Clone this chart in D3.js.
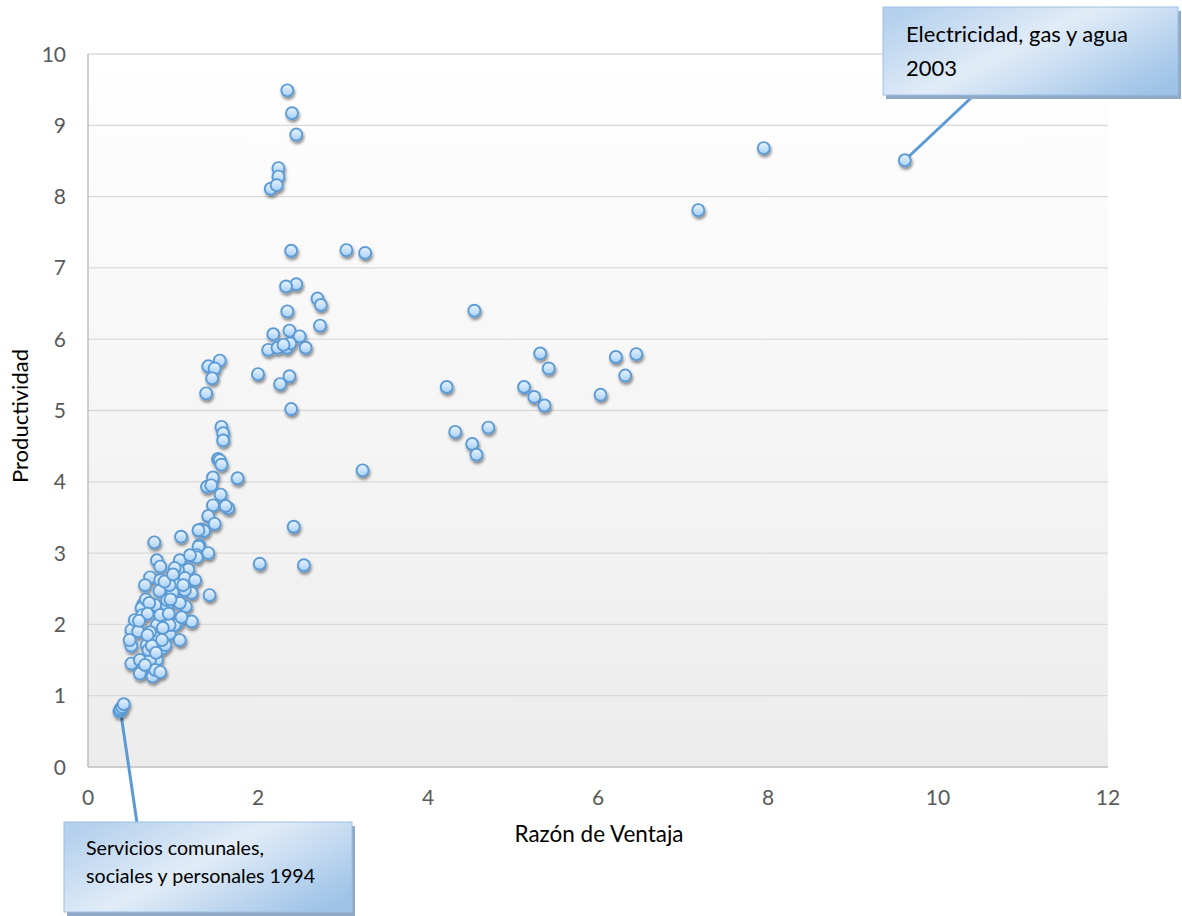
<!DOCTYPE html>
<html><head><meta charset="utf-8">
<script src="https://cdn.jsdelivr.net/npm/d3@7"></script>
<style>body{margin:0;background:#fff}svg{display:block}</style>
</head><body>
<svg id="chart" width="1182" height="916"></svg>
<script>
// ---- data ----
const xTicks = [0, 2, 4, 6, 8, 10, 12];
const yTicks = [0, 1, 2, 3, 4, 5, 6, 7, 8, 9, 10];
const xTitle = "Razón de Ventaja";
const yTitle = "Productividad";
const calloutTop = ["Electricidad, gas y agua", "2003"];
const calloutBottom = ["Servicios comunales,", "sociales y personales 1994"];
const razonVentaja = [
 9.61,7.95,7.18,6.45,6.21,6.32,6.03,5.32,5.42,5.13,5.25,5.37,4.545,4.22,4.32,4.71,4.52,4.57,
 3.23,3.04,3.26,2.345,2.40,2.45,2.24,2.24,2.15,2.22,2.39,2.45,2.33,2.70,2.74,2.345,2.73,
 2.37,2.18,2.49,2.12,2.23,2.34,2.56,2.38,2.30,2.0,2.37,2.26,2.39,2.42,2.54,2.02,
 1.55,1.415,1.49,1.46,1.39,1.57,1.59,1.59,1.53,1.55,1.57,1.47,1.76,1.40,1.45,1.56,1.47,1.65,1.62,
 1.415,1.49,1.33,1.365,1.30,0.78,1.094,1.31,1.30,1.28,1.415,1.28,1.08,0.81,0.85,1.18,1.06,0.73,
 0.85,1.08,1.14,1.02,0.84,0.996,1.22,1.43,0.65,0.63,0.93,1.15,1.08,0.91,1.22,1.05,0.81,0.51,0.59,
 0.96,0.79,0.51,0.69,0.87,0.81,0.51,0.73,0.61,0.76,
 0.67,0.96,0.49,0.61,0.73,0.91,1.02,0.79,0.85,0.55,0.64,0.93,1.14,1.26,1.02,1.20,0.73,0.79,0.67,
 0.87,0.96,1.08,0.85,0.71,0.68,0.72,
 0.97,1.12,0.90,1.00,0.70,0.60,0.88,0.95,1.10,0.75,0.80,0.70,
 0.37,0.39,0.38,0.40,0.42
];
const productividad = [
 8.51,8.68,7.81,5.79,5.75,5.49,5.22,5.80,5.59,5.33,5.19,5.07,6.40,5.33,4.70,4.76,4.53,4.38,
 4.16,7.25,7.21,9.49,9.17,8.87,8.40,8.28,8.11,8.16,7.24,6.77,6.74,6.57,6.48,6.39,6.19,
 6.12,6.07,6.04,5.85,5.88,5.88,5.88,5.94,5.92,5.51,5.48,5.37,5.02,3.37,2.83,2.85,
 5.70,5.62,5.59,5.45,5.24,4.77,4.68,4.58,4.32,4.30,4.24,4.06,4.05,3.93,3.95,3.82,3.67,3.63,3.66,
 3.52,3.41,3.33,3.31,3.32,3.15,3.23,3.11,3.09,2.97,3.00,2.94,2.90,2.90,2.81,2.77,2.76,2.66,
 2.62,2.62,2.65,2.58,2.47,2.45,2.44,2.41,2.28,2.23,2.26,2.25,2.30,2.04,2.04,2.02,1.99,1.92,1.90,
 1.87,1.81,1.70,1.71,1.66,1.50,1.45,1.55,1.31,1.27,
 2.55,2.55,1.78,1.50,1.89,1.71,1.99,2.27,2.13,2.06,2.13,2.34,2.48,2.62,2.79,2.97,1.50,1.36,1.43,
 1.78,1.99,1.78,1.33,1.64,2.35,2.30,
 2.35,2.55,2.60,2.70,2.15,2.05,1.95,2.15,2.10,1.70,1.60,1.85,
 0.78,0.80,0.81,0.84,0.88
];
const topIdx = 0;                          // Electricidad, gas y agua 2003
const bottomIdx = razonVentaja.length - 3; // Servicios comunales ... 1994

// ---- layout ----
const svg = d3.select("#chart");
const x = d3.scaleLinear().domain([0, 12]).range([88, 1108]);
const y = d3.scaleLinear().domain([0, 10]).range([767, 54]);
const font = "Lato, 'Open Sans', sans-serif";

const defs = svg.append("defs");
const bg = defs.append("linearGradient").attr("id","bg").attr("x1",0).attr("y1",0).attr("x2",0).attr("y2",1);
bg.append("stop").attr("offset","0%").attr("stop-color","#ffffff");
bg.append("stop").attr("offset","100%").attr("stop-color","#ececec");
const mk = defs.append("linearGradient").attr("id","mk").attr("x1",0).attr("y1",0).attr("x2",0).attr("y2",1);
mk.append("stop").attr("offset","0%").attr("stop-color","#eaf4fe");
mk.append("stop").attr("offset","100%").attr("stop-color","#a6cff6");
const bx = defs.append("linearGradient").attr("id","bx").attr("x1",0).attr("y1",0.2).attr("x2",1).attr("y2",0.8);
bx.append("stop").attr("offset","0%").attr("stop-color","#b6d1ed");
bx.append("stop").attr("offset","45%").attr("stop-color","#e1ecf8");
bx.append("stop").attr("offset","100%").attr("stop-color","#9fc3e7");
const sh = defs.append("filter").attr("id","sh").attr("x","-50%").attr("y","-50%").attr("width","200%").attr("height","200%");
sh.append("feDropShadow").attr("dx",1).attr("dy",2.5).attr("stdDeviation",1.6)
  .attr("flood-color","#000").attr("flood-opacity",0.45);

// plot background
svg.append("rect").attr("x", x(0)).attr("y", y(10)).attr("width", x(12)-x(0)).attr("height", y(0)-y(10))
  .attr("fill","url(#bg)");

// gridlines
svg.append("g").selectAll("line").data(yTicks.filter(d => d > 0)).join("line")
  .attr("x1", x(0)).attr("x2", x(12)).attr("y1", d => y(d)).attr("y2", d => y(d))
  .attr("stroke","#d9d9d9").attr("stroke-width",1.3);

// axis lines
svg.append("line").attr("x1", x(0)).attr("x2", x(0)).attr("y1", y(10)).attr("y2", y(0))
  .attr("stroke","#bfbfbf").attr("stroke-width",1.5);
svg.append("line").attr("x1", x(0)).attr("x2", x(12)).attr("y1", y(0)).attr("y2", y(0))
  .attr("stroke","#bfbfbf").attr("stroke-width",1.5);

// tick labels
svg.append("g").selectAll("text").data(yTicks).join("text")
  .attr("x", 66).attr("y", d => y(d)).attr("dy","0.36em").attr("text-anchor","end")
  .attr("font-family", font).attr("font-size", 21).attr("fill","#595959").text(d => d);
svg.append("g").selectAll("text").data(xTicks).join("text")
  .attr("x", d => x(d)).attr("y", 805).attr("text-anchor","middle")
  .attr("font-family", font).attr("font-size", 21).attr("fill","#595959").text(d => d);

function fit(sel, target){
  const w = sel.node().getComputedTextLength();
  const fs = parseFloat(sel.attr("font-size"));
  sel.attr("font-size", (fs*target/w).toFixed(2));
}
const xt = svg.append("text").attr("x", 599).attr("y", 842).attr("text-anchor","middle")
  .attr("font-family", font).attr("font-size", 20).attr("fill","#000").text(xTitle);
fit(xt, 169);
const yt = svg.append("text").attr("transform","translate(28,416) rotate(-90)").attr("text-anchor","middle")
  .attr("font-family", font).attr("font-size", 20).attr("fill","#000").text(yTitle);
fit(yt, 134);

// leader lines
const lineCol = "#5b9bd5";
svg.append("line").attr("x1", x(razonVentaja[topIdx])).attr("y1", y(productividad[topIdx]))
  .attr("x2", 971).attr("y2", 98).attr("stroke", lineCol).attr("stroke-width", 3);
svg.append("line").attr("x1", x(razonVentaja[bottomIdx])).attr("y1", y(productividad[bottomIdx]))
  .attr("x2", 137).attr("y2", 823).attr("stroke", lineCol).attr("stroke-width", 3);

// points
const pts = razonVentaja.map((v, i) => ({x: v, y: productividad[i]}));
svg.append("g").attr("filter","url(#sh)").selectAll("circle").data(pts).join("circle")
  .attr("cx", d => x(d.x)).attr("cy", d => y(d.y)).attr("r", 6)
  .attr("fill","url(#mk)").attr("stroke","#5b9bd5").attr("stroke-width",1.9);

// callouts
function callout(bxX, bxY, w, h, lines, tx, ty, lh, target){
  const g = svg.append("g");
  g.append("rect").attr("x", bxX+3).attr("y", bxY+4).attr("width", w).attr("height", h).attr("fill","#8fa9c6");
  g.append("rect").attr("x", bxX).attr("y", bxY).attr("width", w).attr("height", h)
    .attr("fill","url(#bx)").attr("stroke","#9bbfe4").attr("stroke-width",1);
  const ts = lines.map((l, i) => g.append("text").attr("x", tx).attr("y", ty + i*lh)
    .attr("font-family", font).attr("font-size", 20).attr("fill","#000").text(l));
  fit(ts[0], target);
  ts.slice(1).forEach(t => t.attr("font-size", ts[0].attr("font-size")));
}
callout(883, 7, 295, 88, calloutTop, 906, 42, 34, 222);
callout(64, 822, 288, 90, calloutBottom, 86, 855, 28, 178);
</script>
</body></html>
